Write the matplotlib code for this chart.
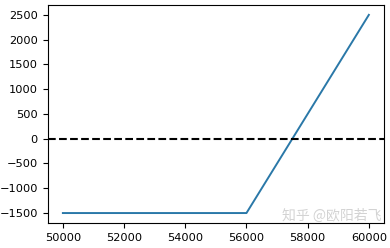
import matplotlib
matplotlib.use("Agg")
import matplotlib.pyplot as plt

prices = [50000, 56000, 60000]
payoff = [-1500, -1500, 2500]
zero_level = 0
watermark = "知乎 @欧阳若飞"

fig = plt.figure(figsize=(3.9, 2.48), dpi=100)
ax = fig.add_axes([0.122, 0.101, 0.863, 0.879])
ax.plot(prices, payoff, color="#2a78a8", lw=1.4)
ax.axhline(zero_level, color="black", ls="--", lw=1.5)
ax.set_xticks([50000, 52000, 54000, 56000, 58000, 60000])
ax.set_yticks([-1500, -1000, -500, 0, 500, 1000, 1500, 2000, 2500])
ax.tick_params(labelsize=8.2)
fig.text(0.722, 0.115, watermark, fontsize=10, color="#c8c8c8", alpha=0.8,
         family=["Noto Sans CJK SC", "DejaVu Sans"])
fig.savefig("out.png", dpi=100)
